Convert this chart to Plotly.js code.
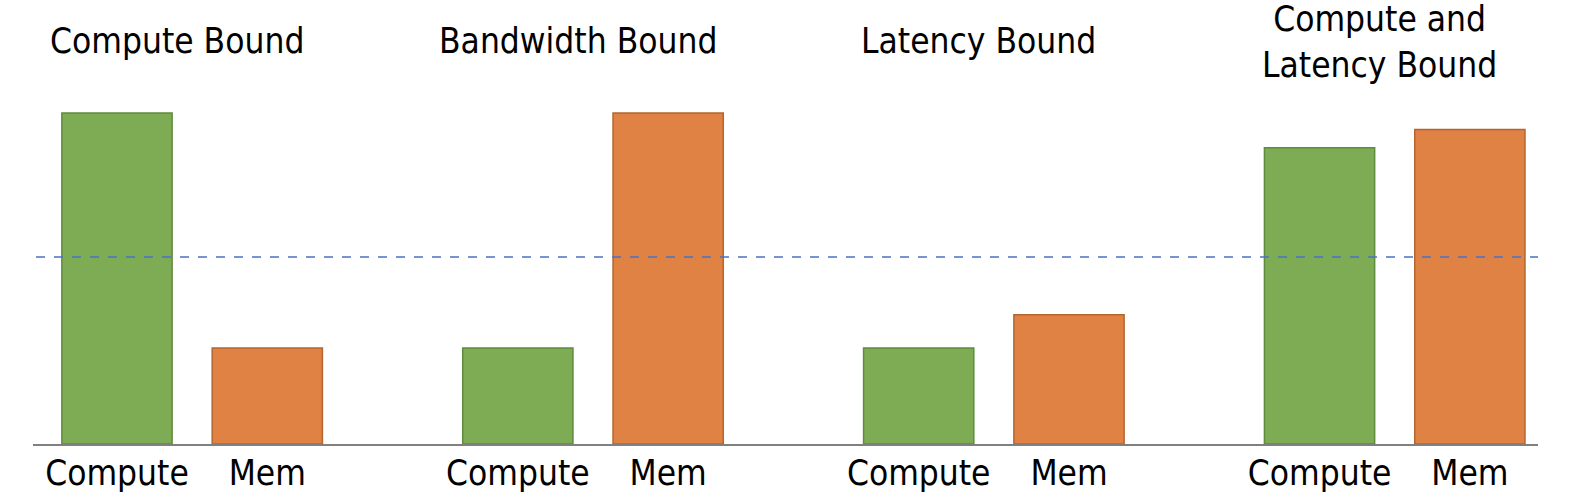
<!DOCTYPE html>
<html>
<head>
<meta charset="utf-8">
<script src="https://cdn.plot.ly/plotly-3.0.1.min.js"></script>
<style>html,body{margin:0;padding:0;background:#fff;}#chart{width:1575px;height:501px;}</style>
</head>
<body>
<div id="chart"></div>
<script>
// ---- data ----
const groupTitles = ['Compute Bound', 'Bandwidth Bound', 'Latency Bound', 'Compute and<br>Latency Bound'];
const barLabels = ['Compute', 'Mem'];
const computeValues = [10.0, 2.9, 2.9, 8.95];
const memValues = [2.9, 10.0, 3.9, 9.5];
const thresholdValue = 5.65;

// ---- layout helpers ----
const groupStep = 4, memOffset = 1.5, barWidth = 1.1;
const computeX = groupTitles.map((_, i) => i * groupStep);
const memX = groupTitles.map((_, i) => i * groupStep + memOffset);
const FONT = 'DejaVu Sans Condensed, DejaVu Sans, sans-serif';
const FS = 35;

const traces = [
  {type: 'bar', name: barLabels[0], x: computeX, y: computeValues, width: barWidth,
   marker: {color: '#7DAC55', line: {color: '#5F8B3C', width: 1.5}}, hoverinfo: 'y'},
  {type: 'bar', name: barLabels[1], x: memX, y: memValues, width: barWidth,
   marker: {color: '#E08244', line: {color: '#B3662F', width: 1.5}}, hoverinfo: 'y'}
];

const tickvals = [], ticktext = [];
computeX.forEach((x, i) => { tickvals.push(x, memX[i]); ticktext.push(barLabels[0], barLabels[1]); });

const annotations = groupTitles.map((t, i) => ({
  text: t, x: i * groupStep + memOffset / 2 - 0.15, xref: 'x',
  y: 1 - (i === 3 ? 42 : 41) / 444, yref: 'paper', yanchor: 'middle', xanchor: 'center',
  showarrow: false, font: {family: FONT, size: FS, color: '#000'}
}));

const layout = {
  width: 1575, height: 501,
  margin: {l: 33, r: 37, t: 0, b: 57, pad: 0},
  paper_bgcolor: '#fff', plot_bgcolor: '#fff',
  showlegend: false,
  xaxis: {range: [-0.838, 14.18], tickvals: tickvals, ticktext: ticktext,
          tickfont: {family: FONT, size: FS, color: '#000'},
          showgrid: false, zeroline: false, showline: true, linecolor: '#808080', linewidth: 1.5,
          ticks: '', ticklabelstandoff: -3, fixedrange: true},
  yaxis: {range: [0, 13.41], visible: false, showgrid: false, zeroline: false, fixedrange: true},
  shapes: [{type: 'line', xref: 'paper', x0: 0.002, x1: 1, yref: 'y', y0: thresholdValue, y1: thresholdValue,
            line: {color: '#4A72C4', width: 1.5, dash: 'dash'}}],
  annotations: annotations
};

Plotly.newPlot('chart', traces, layout, {displayModeBar: false, staticPlot: true});
</script>
</body>
</html>
